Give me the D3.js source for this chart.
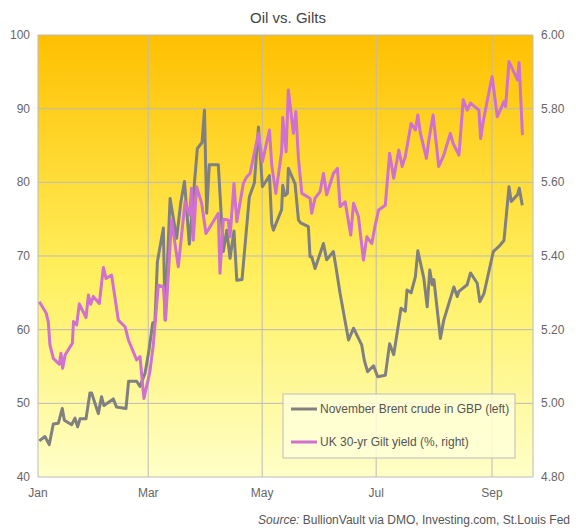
<!DOCTYPE html>
<html><head><meta charset="utf-8">
<script src="https://cdn.jsdelivr.net/npm/d3@7"></script>
<style>body{margin:0;background:#fff;font-family:"Liberation Sans",Arial,sans-serif}</style>
</head><body><div id="chart"></div>
<script>
// days since 1 Jan, and values
const oilDays = [0.7,3.7,6,8.2,10.9,13,14.1,18,19.8,21.2,22.5,25.7,27.8,28.7,32.3,34,35.3,40.3,42,47.1,48.5,52.8,54.6,57.3,59.4,61.4,62.6,63.9,67.1,68,70.7,74.2,76.4,78.4,81,83.7,85.3,87.8,89.1,90.3,91.7,96.5,99.2,101,102.8,104.9,106.4,109.2,113.1,115.8,118,120.1,123.9,125.1,126,130.4,131,132.2,133.5,134,137.6,139.4,140.6,144.7,145.6,146.5,148.3,152.8,154.5,158.1,159.6,161.7,166.2,168.9,173.3,174.6,176.4,179.6,181.8,185.9,188.2,190.4,194.3,196.6,197.5,199.7,202,203.3,206.5,208.3,209.7,211,211.9,215.4,217.2,222.6,224.4,225.3,229.7,231.5,235.1,236.5,238.7,243.7,246.7,249.4,252.1,253.3,256.6,257.6,259.2];
const oilValues = [44.9,45.5,44.4,47.2,47.3,49.3,47.7,47.1,48.0,46.8,47.9,47.9,51.4,51.4,48.6,50.9,49.7,50.6,49.5,49.3,53.0,53.0,52.3,54.1,57.2,60.9,61.1,69.2,73.8,61.3,77.8,72.4,77.2,80.1,71.6,79.8,84.6,85.4,89.8,75.8,82.4,82.4,70.6,73.5,69.7,73.4,66.7,66.8,78.0,79.9,87.5,79.4,80.9,74.4,73.5,76.3,79.6,78.2,78.5,81.9,79.8,74.9,74.5,74.0,69.9,69.9,68.3,71.7,69.5,70.6,68.3,64.9,58.6,60.2,57.9,55.9,54.3,55.1,53.6,53.8,58.1,56.6,62.9,62.5,65.4,65.0,67.2,70.7,67.0,63.1,68.1,66.1,66.8,58.8,61.3,65.8,64.5,65.2,66.1,67.7,66.3,63.8,64.9,70.6,71.3,72.1,79.4,77.4,78.3,79.2,76.9];

const giltDays = [0.7,4.3,5.5,6.4,8.2,11.4,12.3,13.2,14.5,18.4,19,20.7,22.1,25.7,27,28.2,29.6,32.8,35,36.4,39.4,43,46.6,48.4,52.8,54.6,56.7,59.9,61.7,64.4,67.1,68.3,71.5,75.1,78.7,81,82.2,83.1,84.9,87.6,89.9,96.5,97.4,99.2,101.8,102.8,104.9,106.4,109.9,111.7,113.5,118,120.1,123.9,125.1,127.3,130.4,131,132.8,134,136.7,138,139.4,141.2,145.6,146.5,148.3,151,152.8,154.5,158.1,160.3,161.7,164.4,167.4,168.9,171.5,174.2,176,178.7,180.5,182.3,185.9,188.2,190.4,193.1,194.9,196.6,199.7,202,203.3,204.7,207.9,209.2,211.5,214.5,217.2,220.7,222.2,225.3,227.6,229.7,231.5,236,236.9,238.3,242.3,243.1,245.8,249.4,250.3,252.1,256.6,257.5,259.3];
const giltValues = [5.276,5.246,5.222,5.158,5.122,5.106,5.136,5.095,5.131,5.163,5.222,5.213,5.270,5.233,5.294,5.269,5.290,5.271,5.369,5.339,5.348,5.226,5.208,5.172,5.118,5.127,5.013,5.086,5.158,5.321,5.317,5.226,5.498,5.371,5.547,5.511,5.584,5.443,5.588,5.543,5.461,5.516,5.353,5.500,5.498,5.452,5.597,5.493,5.597,5.615,5.624,5.733,5.656,5.742,5.647,5.570,5.683,5.776,5.683,5.851,5.733,5.792,5.665,5.570,5.557,5.516,5.557,5.575,5.624,5.566,5.624,5.638,5.534,5.547,5.457,5.543,5.507,5.389,5.452,5.434,5.484,5.525,5.538,5.679,5.611,5.688,5.643,5.670,5.760,5.742,5.783,5.733,5.665,5.715,5.783,5.643,5.674,5.733,5.706,5.674,5.824,5.796,5.815,5.796,5.719,5.765,5.869,5.887,5.778,5.819,5.806,5.928,5.878,5.925,5.728];

const leftTicks = [40,50,60,70,80,90,100];
const rightTicks = [4.8,5.0,5.2,5.4,5.6,5.8,6.0];
const monthTicks = ["Jan","Mar","May","Jul","Sep"];
const seriesNames = ["November Brent crude in GBP (left)","UK 30-yr Gilt yield (%, right)"];

const start = new Date(2023,0,1);
const toDate = d => new Date(start.getTime() + d*86400000);
const oil = oilDays.map((d,i) => ({date: toDate(d), value: oilValues[i]}));
const gilt = giltDays.map((d,i) => ({date: toDate(d), value: giltValues[i]}));

const W = 576, H = 531;
const margin = {top: 35, right: 43, bottom: 54, left: 38};
const width = W - margin.left - margin.right, height = H - margin.top - margin.bottom;

const svg = d3.select("#chart").append("svg").attr("width", W).attr("height", H);

const grad = svg.append("defs").append("linearGradient").attr("id","bg")
  .attr("x1",0).attr("y1",0).attr("x2",0).attr("y2",1);
grad.append("stop").attr("offset","0%").attr("stop-color","#ffc000");
grad.append("stop").attr("offset","55%").attr("stop-color","#fff060");
grad.append("stop").attr("offset","100%").attr("stop-color","#ffffc8");

svg.append("text").attr("x", W/2).attr("y", 23).attr("text-anchor","middle")
  .attr("font-size",15).attr("fill","#444").text("Oil vs. Gilts");

const g = svg.append("g").attr("transform", `translate(${margin.left},${margin.top})`);
g.append("rect").attr("width", width).attr("height", height).attr("fill","url(#bg)");

const x = d3.scaleTime().domain([start, new Date(2023,8,1)]).range([0, 454]);
const yL = d3.scaleLinear().domain([40,100]).range([height,0]);
const yR = d3.scaleLinear().domain([4.8,6.0]).range([height,0]);
const monthDates = monthTicks.map((m,i) => new Date(2023, i*2, 1));

// grid
g.selectAll(".hg").data(leftTicks).join("line")
  .attr("x1",0).attr("x2",width).attr("y1",d=>yL(d)).attr("y2",d=>yL(d))
  .attr("stroke","#bbb");
g.selectAll(".vg").data(monthDates).join("line")
  .attr("x1",d=>x(d)).attr("x2",d=>x(d)).attr("y1",0).attr("y2",height)
  .attr("stroke","#bbb");
g.append("line").attr("x1",width).attr("x2",width).attr("y1",0).attr("y2",height).attr("stroke","#bbb");

// axes labels
g.selectAll(".lt").data(leftTicks).join("text")
  .attr("x",-8).attr("y",d=>yL(d)+4).attr("text-anchor","end")
  .attr("font-size",12).attr("fill","#666").text(d=>d);
g.selectAll(".rt").data(rightTicks).join("text")
  .attr("x",width+8).attr("y",d=>yR(d)+4)
  .attr("font-size",12).attr("fill","#666").text(d=>d.toFixed(2));
g.selectAll(".mt").data(monthDates).join("text")
  .attr("x",d=>x(d)).attr("y",height+20).attr("text-anchor","middle")
  .attr("font-size",12).attr("fill","#666").text((d,i)=>monthTicks[i]);

// lines
g.append("path").datum(oil).attr("fill","none").attr("stroke","#808080").attr("stroke-width",3)
  .attr("stroke-linejoin","round")
  .attr("d", d3.line().x(d=>x(d.date)).y(d=>yL(d.value)));
g.append("path").datum(gilt).attr("fill","none").attr("stroke","#d070d0").attr("stroke-width",3)
  .attr("stroke-linejoin","round")
  .attr("d", d3.line().x(d=>x(d.date)).y(d=>yR(d.value)));

// legend
const lg = g.append("g").attr("transform","translate(245,359)");
lg.append("rect").attr("width",232).attr("height",64).attr("fill","#ffffd8").attr("fill-opacity",0.85).attr("stroke","#bbb");
[["#808080",0],["#d070d0",1]].forEach(([c,i]) => {
  lg.append("line").attr("x1",8).attr("x2",34).attr("y1",15+i*33).attr("y2",15+i*33).attr("stroke",c).attr("stroke-width",3);
  lg.append("text").attr("x",37).attr("y",19+i*33).attr("font-size",12).attr("fill","#555").text(seriesNames[i]);
});

// source
const src = svg.append("text").attr("x",570).attr("y",524).attr("text-anchor","end").attr("font-size",12).attr("fill","#555");
src.append("tspan").attr("font-style","italic").text("Source:");
src.append("tspan").text(" BullionVault via DMO, Investing.com,  St.Louis Fed");
</script></body></html>
